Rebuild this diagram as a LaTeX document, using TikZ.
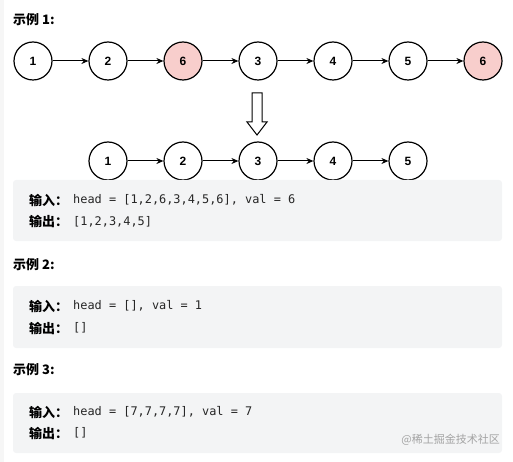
\documentclass[tikz,border=0pt]{standalone}
\usepackage{fontspec}
\setmainfont{Liberation Sans}
\setmonofont{DejaVu Sans Mono}
\newfontfamily\cjk{Noto Sans CJK SC}
\usetikzlibrary{arrows.meta}

\definecolor{delpink}{HTML}{F8CECC}
\definecolor{codebg}{HTML}{F3F4F5}
\definecolor{codetxt}{HTML}{262626}
\definecolor{markgray}{HTML}{A3A3A3}
\definecolor{sidegray}{HTML}{F6F6F6}

\tikzset{
  lnode/.style={circle,draw,line width=1.2pt,minimum size=38pt,inner sep=0pt,
    font=\fontsize{12}{12}\selectfont\bfseries},
  delnode/.style={lnode,fill=delpink},
  link/.style={-{Stealth[length=7pt,width=6pt]},line width=1pt},
  heading/.style={anchor=west,inner sep=0pt,font=\cjk\bfseries\fontsize{13}{13}\selectfont},
  codebox/.style={fill=codebg,rounded corners=3pt},
  keytext/.style={anchor=west,inner sep=0pt,font=\cjk\bfseries\fontsize{13}{13}\selectfont},
  codetext/.style={anchor=west,inner sep=0pt,text=codetxt,font=\ttfamily\fontsize{11.9}{12}\selectfont}
}

\begin{document}
\begin{tikzpicture}[x=1pt,y=-1pt]
\useasboundingbox (0,0) rectangle (513,462);
\fill[sidegray] (0,0) rectangle (4,462);

% example 1
\node[heading] (h1) at (13,20) {示例 1:};
\node[lnode] (a1) at (33,61) {1};
\node[lnode] (a2) at (108,61) {2};
\node[delnode] (a3) at (183,61) {6};
\node[lnode] (a4) at (258,61) {3};
\node[lnode] (a5) at (333,61) {4};
\node[lnode] (a6) at (408,61) {5};
\node[delnode] (a7) at (483,61) {6};
\draw[link] (a1) -- (a2);
\draw[link] (a2) -- (a3);
\draw[link] (a3) -- (a4);
\draw[link] (a4) -- (a5);
\draw[link] (a5) -- (a6);
\draw[link] (a6) -- (a7);

% hollow arrow
\draw[line width=1pt,fill=white] (252,93) -- (262,93) -- (262,122) -- (267,122)
  -- (257,135) -- (247,122) -- (252,122) -- cycle;

\node[lnode] (b1) at (108,161) {1};
\node[lnode] (b2) at (183,161) {2};
\node[lnode] (b3) at (258,161) {3};
\node[lnode] (b4) at (333,161) {4};
\node[lnode] (b5) at (408,161) {5};
\draw[link] (b1) -- (b2);
\draw[link] (b2) -- (b3);
\draw[link] (b3) -- (b4);
\draw[link] (b4) -- (b5);

\fill[codebox] (13,180) rectangle (502,241);
\node[keytext] (k1) at (29,200) {输入：};
\node[codetext] (c1) at (73,200) {head = [1,2,6,3,4,5,6], val = 6};
\node[keytext] (k2) at (29,222) {输出：};
\node[codetext] (c2) at (73,222) {[1,2,3,4,5]};

% example 2
\node[heading] (h2) at (13,265) {示例 2:};
\fill[codebox] (13,286) rectangle (502,348);
\node[keytext] (k3) at (29,306) {输入：};
\node[codetext] (c3) at (73,306) {head = [], val = 1};
\node[keytext] (k4) at (29,328) {输出：};
\node[codetext] (c4) at (73,328) {[]};

% example 3
\node[heading] (h3) at (13,370) {示例 3:};
\fill[codebox] (13,393) rectangle (502,453);
\node[keytext] (k5) at (29,412) {输入：};
\node[codetext] (c5) at (73,412) {head = [7,7,7,7], val = 7};
\node[keytext] (k6) at (29,433) {输出：};
\node[codetext] (c6) at (73,433) {[]};

\node[anchor=east,inner sep=0pt,text=markgray,font=\cjk\fontsize{11}{11}\selectfont]
  (wm) at (500,440) {@稀土掘金技术社区};
\end{tikzpicture}
\end{document}
